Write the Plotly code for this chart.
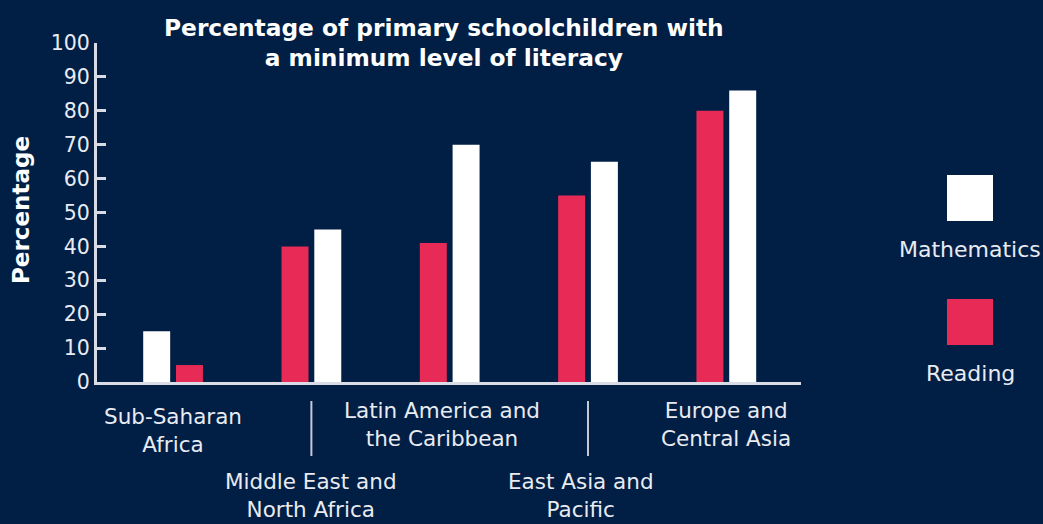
import plotly.graph_objects as go

# --- data -------------------------------------------------------------
regions = [
    "Sub-Saharan<br>Africa",
    "Middle East and<br>North Africa",
    "Latin America and<br>the Caribbean",
    "East Asia and<br>Pacific",
    "Europe and<br>Central Asia",
]
mathematics = [15, 45, 70, 65, 86]
reading = [5, 40, 41, 55, 80]
# which series sits on the left inside each pair
left_series = ["Mathematics", "Reading", "Reading", "Reading", "Reading"]
y_ticks = [0, 10, 20, 30, 40, 50, 60, 70, 80, 90, 100]

# --- style ------------------------------------------------------------
BG = "#011f45"
RED = "#e82b56"
WHITE = "#ffffff"
TEXT = "#e9ebf1"
AXIS = "#d9dce4"
FONT = "DejaVu Sans"

W, H = 1043, 524
M_L, M_R, M_T, M_B = 97, 242, 43, 142
PW, PH = W - M_L - M_R, H - M_T - M_B

BAR_W = 0.195
GAP = 0.042


def px_to_paper(px, py):
    return (px - M_L) / PW, (H - M_B - py) / PH


x_pos = list(range(len(regions)))
math_offset = [-(BAR_W + GAP / 2) if s == "Mathematics" else GAP / 2 for s in left_series]
read_offset = [-(BAR_W + GAP / 2) if s == "Reading" else GAP / 2 for s in left_series]

fig = go.Figure()
fig.add_trace(go.Bar(
    x=x_pos, y=reading, name="Reading", width=BAR_W, offset=read_offset,
    marker=dict(color=RED, line=dict(width=0)), showlegend=False,
))
fig.add_trace(go.Bar(
    x=x_pos, y=mathematics, name="Mathematics", width=BAR_W, offset=math_offset,
    marker=dict(color=WHITE, line=dict(width=0)), showlegend=False,
))

# --- category labels (staggered) -------------------------------------
label_shift = [-48, -113, -42, -113, -42]
label_xshift = [0, 0, -8, -7, 0]
annotations = []
for i, (txt, ys, xs) in enumerate(zip(regions, label_shift, label_xshift)):
    annotations.append(dict(
        x=i, y=0, xref="x", yref="paper", text=txt, showarrow=False,
        xanchor="center", yanchor="middle", yshift=ys, xshift=xs,
        font=dict(family=FONT, size=21.5, color=TEXT), align="center",
    ))

# separators above the lower labels
shapes = []
for i in (1, 3):
    shapes.append(dict(
        type="line", xref="x", yref="paper",
        x0=i, x1=i, y0=px_to_paper(0, 401)[1], y1=px_to_paper(0, 456)[1],
        line=dict(color="#c5c9d3", width=2),
    ))

# --- legend: big squares with captions below --------------------------
legend_items = [("Mathematics", WHITE, 175, 249), ("Reading", RED, 299, 373)]
for name, color, top_px, text_px in legend_items:
    x0, y0 = px_to_paper(947, top_px)
    x1, y1 = px_to_paper(993, top_px + 46)
    shapes.append(dict(type="rect", xref="paper", yref="paper",
                       x0=x0, x1=x1, y0=y1, y1=y0,
                       fillcolor=color, line=dict(width=0)))
    tx, ty = px_to_paper(970, text_px)
    annotations.append(dict(
        x=tx, y=ty, xref="paper", yref="paper", text=name, showarrow=False,
        xanchor="center", yanchor="middle",
        font=dict(family=FONT, size=22, color=TEXT),
    ))

# title
tx, ty = px_to_paper(444, 42)
annotations.append(dict(
    x=tx, y=ty, xref="paper", yref="paper", showarrow=False,
    text="<b>Percentage of primary schoolchildren with<br>a minimum level of literacy</b>",
    xanchor="center", yanchor="middle", align="center",
    font=dict(family=FONT, size=23.3, color=WHITE),
))

# y-axis title
tx, ty = px_to_paper(21, 210)
annotations.append(dict(
    x=tx, y=ty, xref="paper", yref="paper", showarrow=False, textangle=-90,
    text="<b>Percentage</b>", xanchor="center", yanchor="middle",
    font=dict(family=FONT, size=23, color=WHITE),
))

fig.update_layout(
    width=W, height=H,
    margin=dict(l=M_L, r=M_R, t=M_T, b=M_B),
    paper_bgcolor=BG, plot_bgcolor=BG,
    barmode="overlay",
    annotations=annotations, shapes=shapes,
    xaxis=dict(
        range=[-0.55, 4.54], showgrid=False, zeroline=False,
        showticklabels=False, ticks="", showline=True,
        linecolor=AXIS, linewidth=3, fixedrange=True,
    ),
    yaxis=dict(
        range=[0, 100], tickvals=y_ticks, showgrid=False, zeroline=False,
        showline=True, linecolor=AXIS, linewidth=3,
        ticks="inside", ticklen=9, tickwidth=3, tickcolor=AXIS,
        tickfont=dict(family=FONT, size=20.5, color=TEXT),
        ticklabelstandoff=0,
    ),
    showlegend=False,
)

fig.write_html("out.html")
